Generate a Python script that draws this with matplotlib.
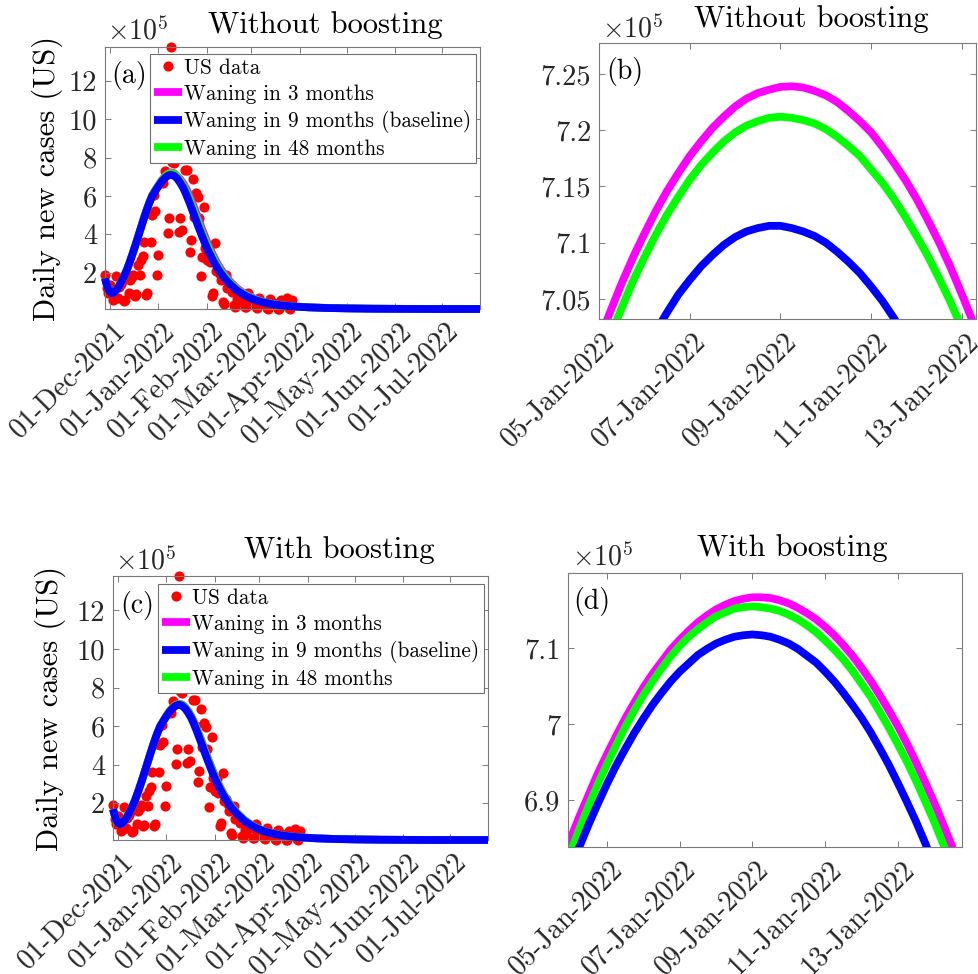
import datetime as dt
import matplotlib
matplotlib.use('Agg')
import matplotlib.pyplot as plt
import matplotlib.dates as mdates
from matplotlib.lines import Line2D
from matplotlib.ticker import FixedLocator, FuncFormatter
from matplotlib.transforms import ScaledTranslation

plt.rcParams['font.family'] = 'serif'
plt.rcParams['font.serif'] = ['cmr10']
plt.rcParams['mathtext.fontset'] = 'cm'
plt.rcParams['axes.unicode_minus'] = False
plt.rcParams['axes.formatter.use_mathtext'] = True

# ---------------- data ----------------
data_start = dt.datetime(2021, 11, 28)
# US daily new cases (x 1e5), one per day from 28-Nov-2021
us_cases = [
    1.90, 1.20, 0.95, 1.35, 1.15, 0.55, 0.60,
    1.80, 0.70, 1.25, 1.40, 1.55, 0.50, 0.55,
    1.95, 0.95, 1.60, 1.75, 1.90, 0.80, 0.90,
    2.40, 1.85, 2.65, 2.85, 3.60, 0.85, 0.95,
    5.09, 3.61, 5.00, 6.05, 5.20, 1.87, 2.92,
    10.6, 8.00, 6.66, 7.30, 8.60, 4.05, 4.84,
    13.8, 7.80, 7.70, 8.60, 8.20, 4.10, 4.84,
    4.20, 10.2, 7.35, 7.36, 6.00, 3.10, 3.70,
    6.90, 4.90, 6.15, 5.95, 4.84, 1.80, 2.83,
    5.44, 3.30, 2.65, 3.27, 2.55, 0.80, 0.96,
    3.55, 2.10, 2.20, 1.95, 1.60, 0.45, 0.35,
    1.85, 1.20, 1.30, 1.15, 1.00, 0.30, 0.22,
    0.60, 0.45, 0.95, 0.80, 0.70, 0.22, 0.18,
    0.95, 0.55, 0.60, 0.55, 0.50, 0.18, 0.15,
    0.70, 0.40, 0.45, 0.42, 0.40, 0.14, 0.12,
    0.60, 0.35, 0.38, 0.40, 0.33, 0.12, 0.11,
    0.55, 0.32, 0.36, 0.45, 0.66, 0.13, 0.11,
    0.55,
]

# model output (x 1e5), days after 28-Nov-2021
model_day = [0, 1, 2, 3, 4, 5, 6, 8, 10, 12, 14, 16, 18, 20, 22, 24, 26, 28, 30,
             32, 34, 36, 38, 40, 42, 44, 46, 48, 50, 52, 54, 56, 58, 60, 62, 64,
             66, 68, 70, 72, 74, 76, 78, 80, 84, 88, 92, 96, 100, 106, 112, 120,
             130, 140, 155, 170, 190, 210, 239]

wane9_nb = [1.70, 1.40, 1.15, 1.00, 0.93, 0.93, 0.98, 1.17, 1.45, 1.78, 2.15, 2.60,
            3.08, 3.58, 4.10, 4.62, 5.12, 5.58, 5.98, 6.25, 6.50, 6.74, 6.92, 7.06,
            7.115, 7.06, 6.91, 6.68, 6.40, 6.03, 5.62, 5.18, 4.73, 4.29, 3.87, 3.47,
            3.10, 2.77, 2.46, 2.19, 1.95, 1.73, 1.54, 1.37, 1.07, 0.86, 0.69, 0.56,
            0.46, 0.36, 0.29, 0.23, 0.185, 0.155, 0.13, 0.115, 0.105, 0.10, 0.10]
wane3_nb = [1.70, 1.41, 1.16, 1.01, 0.94, 0.94, 0.99, 1.18, 1.46, 1.79, 2.16, 2.61,
            3.09, 3.60, 4.12, 4.65, 5.16, 5.62, 6.03, 6.31, 6.56, 6.81, 7.01, 7.177,
            7.238, 7.198, 7.054, 6.87, 6.65, 6.36, 5.99, 5.58, 5.14, 4.69, 4.25, 3.83,
            3.43, 3.07, 2.74, 2.43, 2.17, 1.93, 1.71, 1.52, 1.19, 0.95, 0.77, 0.62,
            0.50, 0.39, 0.31, 0.24, 0.19, 0.16, 0.135, 0.118, 0.107, 0.101, 0.10]
wane48_nb = [1.70, 1.41, 1.16, 1.01, 0.94, 0.94, 0.99, 1.18, 1.46, 1.79, 2.16, 2.61,
             3.09, 3.59, 4.11, 4.64, 5.14, 5.60, 6.01, 6.29, 6.54, 6.79, 6.99, 7.156,
             7.212, 7.165, 7.024, 6.80, 6.54, 6.22, 5.83, 5.40, 4.96, 4.51, 4.08, 3.67,
             3.29, 2.94, 2.62, 2.33, 2.07, 1.84, 1.64, 1.46, 1.13, 0.91, 0.73, 0.59,
             0.48, 0.375, 0.30, 0.235, 0.188, 0.158, 0.133, 0.117, 0.106, 0.10, 0.10]

wane9_b = wane9_nb
wane3_b = [1.70, 1.40, 1.15, 1.00, 0.93, 0.93, 0.98, 1.17, 1.45, 1.78, 2.15, 2.60,
           3.08, 3.59, 4.11, 4.63, 5.13, 5.59, 5.99, 6.27, 6.54, 6.78, 6.96, 7.111,
           7.167, 7.128, 6.997, 6.77, 6.50, 6.16, 5.76, 5.33, 4.89, 4.44, 4.02, 3.61,
           3.23, 2.89, 2.57, 2.28, 2.03, 1.81, 1.61, 1.43, 1.12, 0.90, 0.72, 0.58,
           0.48, 0.37, 0.295, 0.233, 0.188, 0.157, 0.131, 0.116, 0.105, 0.10, 0.10]
wane48_b = [1.70, 1.40, 1.15, 1.00, 0.93, 0.93, 0.98, 1.17, 1.45, 1.78, 2.15, 2.60,
            3.08, 3.59, 4.11, 4.63, 5.13, 5.59, 5.99, 6.26, 6.53, 6.77, 6.95, 7.103,
            7.155, 7.110, 6.98, 6.75, 6.47, 6.12, 5.72, 5.29, 4.84, 4.40, 3.98, 3.57,
            3.19, 2.85, 2.54, 2.26, 2.01, 1.79, 1.59, 1.42, 1.11, 0.89, 0.71, 0.57,
            0.47, 0.365, 0.293, 0.232, 0.187, 0.157, 0.131, 0.116, 0.105, 0.10, 0.10]

# zoomed peak (x 1e5), day of January 2022, every 6 hours
jan_day_b = [4.75, 5.0, 5.25, 5.5, 5.75, 6.0, 6.25, 6.5, 6.75, 7.0, 7.25, 7.5, 7.75,
             8.0, 8.25, 8.5, 8.75, 9.0, 9.25, 9.5, 9.75, 10.0, 10.25, 10.5, 10.75,
             11.0, 11.25, 11.5, 11.75, 12.0, 12.25, 12.5, 12.75, 13.0, 13.25, 13.5,
             13.75]
peak3_nb = [6.986, 7.013, 7.039, 7.064, 7.087, 7.108, 7.128, 7.146, 7.162, 7.177,
            7.190, 7.202, 7.212, 7.221, 7.228, 7.233, 7.236, 7.2385, 7.239, 7.238,
            7.235, 7.231, 7.225, 7.217, 7.208, 7.198, 7.185, 7.171, 7.156, 7.139,
            7.120, 7.100, 7.078, 7.054, 7.029, 7.002, 6.974]
peak9_nb = [6.883, 6.910, 6.936, 6.959, 6.982, 7.002, 7.021, 7.038, 7.054, 7.067,
            7.079, 7.089, 7.098, 7.105, 7.110, 7.113, 7.115, 7.115, 7.113, 7.110,
            7.106, 7.100, 7.092, 7.083, 7.073, 7.061, 7.048, 7.033, 7.017, 6.998,
            6.979, 6.958, 6.936, 6.912, 6.887, 6.860, 6.832]
peak48_nb = [6.962, 6.991, 7.017, 7.042, 7.066, 7.087, 7.107, 7.125, 7.141, 7.156,
             7.169, 7.180, 7.190, 7.198, 7.204, 7.208, 7.211, 7.212, 7.211, 7.209,
             7.206, 7.201, 7.194, 7.186, 7.177, 7.165, 7.153, 7.139, 7.123, 7.106,
             7.088, 7.068, 7.047, 7.024, 7.000, 6.973, 6.946]

jan_day_d = [3.75, 4.0, 4.25, 4.5, 4.75, 5.0, 5.25, 5.5, 5.75, 6.0, 6.25, 6.5, 6.75,
             7.0, 7.25, 7.5, 7.75, 8.0, 8.25, 8.5, 8.75, 9.0, 9.25, 9.5, 9.75, 10.0,
             10.25, 10.5, 10.75, 11.0, 11.25, 11.5, 11.75, 12.0, 12.25, 12.5, 12.75,
             13.0, 13.25, 13.5, 13.75, 14.0, 14.25, 14.5, 14.75]
peak3_b = [6.817, 6.849, 6.879, 6.907, 6.935, 6.960, 6.984, 7.007, 7.028, 7.048,
           7.066, 7.082, 7.098, 7.111, 7.123, 7.134, 7.143, 7.151, 7.157, 7.162,
           7.165, 7.167, 7.167, 7.166, 7.163, 7.159, 7.153, 7.146, 7.138, 7.128,
           7.117, 7.104, 7.090, 7.074, 7.057, 7.038, 7.018, 6.997, 6.974, 6.949,
           6.923, 6.896, 6.867, 6.837, 6.806]
peak9_b = [6.778, 6.809, 6.839, 6.868, 6.895, 6.921, 6.945, 6.967, 6.988, 7.007,
           7.025, 7.041, 7.056, 7.069, 7.080, 7.091, 7.099, 7.106, 7.111, 7.115,
           7.117, 7.118, 7.117, 7.115, 7.111, 7.106, 7.099, 7.090, 7.081, 7.069,
           7.056, 7.041, 7.025, 7.008, 6.989, 6.968, 6.946, 6.922, 6.897, 6.871,
           6.843, 6.812, 6.781, 6.749, 6.714]
peak48_b = [6.798, 6.831, 6.863, 6.893, 6.921, 6.947, 6.972, 6.996, 7.018, 7.038,
            7.056, 7.073, 7.089, 7.103, 7.115, 7.125, 7.134, 7.142, 7.147, 7.152,
            7.154, 7.155, 7.154, 7.152, 7.149, 7.144, 7.138, 7.130, 7.121, 7.110,
            7.098, 7.085, 7.070, 7.053, 7.036, 7.016, 6.995, 6.973, 6.950, 6.925,
            6.898, 6.871, 6.841, 6.811, 6.778]

labels = ['US data', 'Waning in 3 months', 'Waning in 9 months (baseline)',
          'Waning in 48 months']
titles = ['Without boosting', 'Without boosting', 'With boosting', 'With boosting']
panel_tags = ['(a)', '(b)', '(c)', '(d)']
month_ticks = ['2021-12-01', '2022-01-01', '2022-02-01', '2022-03-01', '2022-04-01',
               '2022-05-01', '2022-06-01', '2022-07-01']
jan_ticks = [5, 7, 9, 11, 13]
yticks_main = [2, 4, 6, 8, 10, 12]
yticks_b = [7.05, 7.1, 7.15, 7.2, 7.25]
yticks_d = [6.9, 7.0, 7.1]

# ---------------- styling ----------------
W, H = 979, 974
fig = plt.figure(figsize=(W / 100, H / 100), dpi=100)
C3, C9, C48, CD = '#ff00ff', '#0000ff', '#00ff00', '#ff0000'
AX_COL = '#7a7a7a'
TXT_COL = '#262626'
LW = 5.6
SC = 1e5


def fx(x):
    return x / W


def fy(y):
    return 1 - y / H


def px_axes(l, t, r, b):
    return fig.add_axes([fx(l), fy(b), (r - l) / W, (b - t) / H])


def style(ax, dx_px=3):
    for s in ax.spines.values():
        s.set_color(AX_COL)
        s.set_linewidth(0.8)
    ax.tick_params(direction='in', length=4, width=0.7, color=AX_COL,
                   top=True, right=True, labelsize=20.5, labelcolor=TXT_COL)
    ax.tick_params(axis='x', pad=6)
    ax.tick_params(axis='y', pad=5.5)
    ax.yaxis.set_major_formatter(FuncFormatter(lambda v, p: f'{round(v / SC, 4):g}'))
    offset = ScaledTranslation(dx_px / 100, 0, fig.dpi_scale_trans)
    for lab in ax.get_xticklabels():
        lab.set_rotation(45)
        lab.set_ha('right')
        lab.set_va('top')
        lab.set_rotation_mode('anchor')
        lab.set_transform(lab.get_transform() + offset)


def jan(d):
    return mdates.date2num(dt.datetime(2022, 1, 1)) + (d - 1)


base = mdates.date2num(data_start)
us_x = [base + i for i in range(len(us_cases))]
mod_x = [base + d for d in model_day]
month_x = [mdates.date2num(dt.datetime.strptime(m, '%Y-%m-%d')) for m in month_ticks]


def main_panel(box, w3, w9, w48, legend_xy):
    ax = px_axes(*box)
    ax.plot(us_x, [v * SC for v in us_cases], 'o', color=CD, ms=7.3, mew=0,
            zorder=1, clip_on=False)
    ax.plot(mod_x, [v * SC for v in w3], color=C3, lw=LW, solid_capstyle='butt',
            zorder=2, clip_on=False)
    ax.plot(mod_x, [v * SC for v in w48], color=C48, lw=LW, solid_capstyle='butt',
            zorder=3, clip_on=False)
    ax.plot(mod_x, [v * SC for v in w9], color=C9, lw=LW, solid_capstyle='butt',
            zorder=4, clip_on=False)
    ax.set_xlim(base, base + model_day[-1])
    ax.set_ylim(0.1 * SC, 13.78 * SC)
    ax.xaxis.set_major_locator(FixedLocator(month_x))
    ax.xaxis.set_major_formatter(mdates.DateFormatter('%d-%b-%Y'))
    ax.yaxis.set_major_locator(FixedLocator([v * SC for v in yticks_main]))
    style(ax)
    handles = [Line2D([], [], ls='none', marker='o', color=CD, ms=7.3, mew=0),
               Line2D([], [], color=C3, lw=LW, solid_capstyle='butt'),
               Line2D([], [], color=C9, lw=LW, solid_capstyle='butt'),
               Line2D([], [], color=C48, lw=LW, solid_capstyle='butt')]
    leg = ax.legend(handles, labels, loc='upper left',
                    bbox_to_anchor=(fx(legend_xy[0]), fy(legend_xy[1])),
                    bbox_transform=fig.transFigure, borderaxespad=0,
                    fancybox=False, framealpha=1, edgecolor='#6e6e6e',
                    prop={'size': 15.3}, handlelength=1.3, handletextpad=0.12,
                    borderpad=0.2, labelspacing=0.3)
    leg.get_frame().set_linewidth(0.8)
    leg.set_zorder(10)
    return ax


def zoom_panel(box, days, p3, p9, p48, xlim, ylim, yt):
    ax = px_axes(*box)
    xs = [jan(d) for d in days]
    ax.plot(xs, [v * SC for v in p3], color=C3, lw=LW, solid_capstyle='butt', zorder=2)
    ax.plot(xs, [v * SC for v in p48], color=C48, lw=LW, solid_capstyle='butt', zorder=3)
    ax.plot(xs, [v * SC for v in p9], color=C9, lw=LW, solid_capstyle='butt', zorder=4)
    ax.set_xlim(jan(xlim[0]), jan(xlim[1]))
    ax.set_ylim(ylim[0] * SC, ylim[1] * SC)
    ax.xaxis.set_major_locator(FixedLocator([jan(d) for d in jan_ticks]))
    ax.xaxis.set_major_formatter(mdates.DateFormatter('%d-%b-%Y'))
    ax.yaxis.set_major_locator(FixedLocator([v * SC for v in yt]))
    style(ax)
    return ax


ax_a = main_panel((105, 47, 480, 309), wane3_nb, wane9_nb, wane48_nb, (150, 54))
ax_b = zoom_panel((599, 43, 976, 319), jan_day_b, peak3_nb, peak9_nb, peak48_nb,
                  (5.0, 13.31), (7.0322, 7.2775), yticks_b)
ax_c = main_panel((113, 576, 488, 840), wane3_b, wane9_b, wane48_b, (158, 584))
ax_d = zoom_panel((568, 573, 962, 847), jan_day_d, peak3_b, peak9_b, peak48_b,
                  (3.93, 14.76), (6.838, 7.199), yticks_d)

# titles, exponent labels, panel tags, y labels
for (cx, by), t in zip([(325, 33), (811, 27), (339, 558), (792, 556)], titles):
    fig.text(fx(cx), fy(by), t, ha='center', va='baseline', fontsize=22, color='k')
for (lx, by) in [(107, 40), (602, 37), (115, 570), (572, 565)]:
    fig.text(fx(lx), fy(by), r'$\times10^{5}$', ha='left', va='baseline',
             fontsize=20, color=TXT_COL)
for (lx, cy), t in zip([(111, 76), (606, 71), (120, 606), (573, 602)], panel_tags):
    fig.text(fx(lx), fy(cy), t, ha='left', va='center', fontsize=20, color='k',
             zorder=20)
for (cx, cy) in [(47, 178), (50, 708)]:
    fig.text(fx(cx), fy(cy), 'Daily new cases (US)', rotation=90, ha='center',
             va='center', fontsize=22, color='k')

fig.savefig('out.png', dpi=100)
